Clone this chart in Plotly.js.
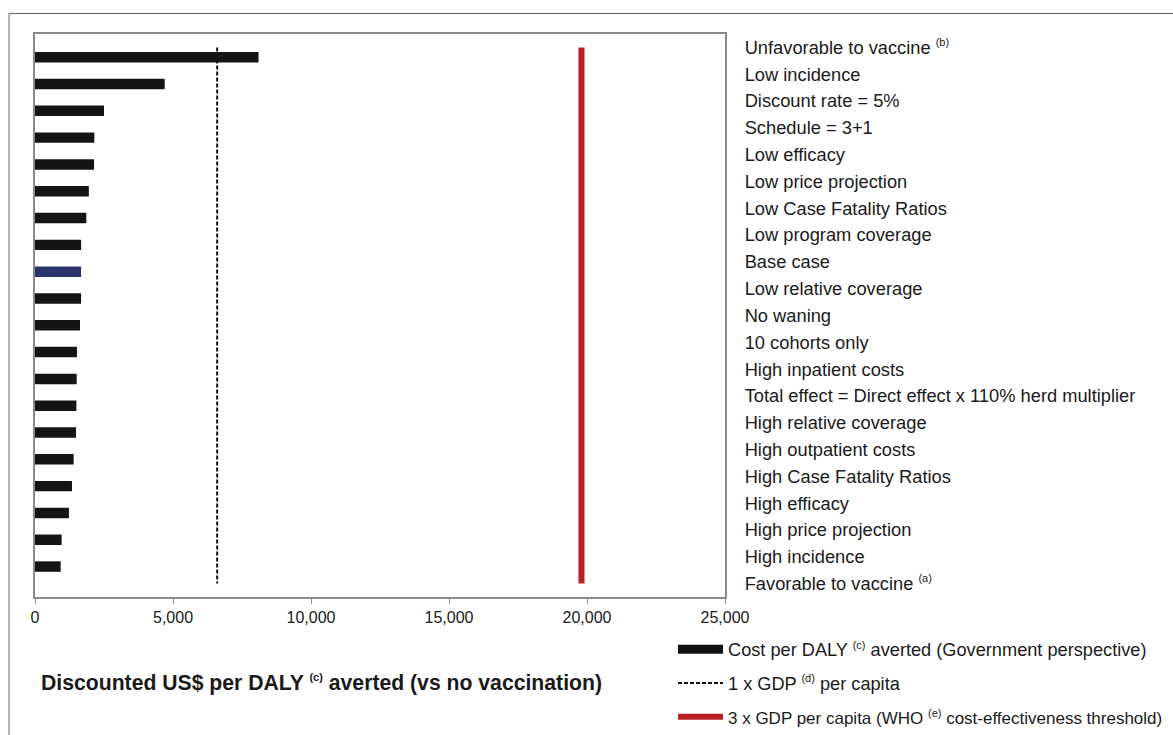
<!DOCTYPE html>
<html>
<head>
<meta charset="utf-8">
<script src="https://cdn.plot.ly/plotly-3.0.1.min.js"></script>
<style>
html,body{margin:0;padding:0;background:#fff;}
#chart{width:1173px;height:735px;}
</style>
</head>
<body>
<div id="chart"></div>
<script>
const sup = s => '<sup><span style="font-size:11px">' + s + '</span></sup>';
// Scenario labels (top to bottom)
const categories = [
  "Unfavorable to vaccine " + sup("(b)"),
  "Low incidence",
  "Discount rate = 5%",
  "Schedule = 3+1",
  "Low efficacy",
  "Low price projection",
  "Low Case Fatality Ratios",
  "Low program coverage",
  "Base case",
  "Low relative coverage",
  "No waning",
  "10 cohorts only",
  "High inpatient costs",
  "Total effect = Direct effect x 110% herd multiplier",
  "High relative coverage",
  "High outpatient costs",
  "High Case Fatality Ratios",
  "High efficacy",
  "High price projection",
  "High incidence",
  "Favorable to vaccine " + sup("(a)")
];
// Cost per DALY averted (Government perspective), US$
const costPerDaly = [8100, 4700, 2500, 2150, 2140, 1950, 1860, 1670, 1670, 1670,
                     1630, 1520, 1510, 1500, 1485, 1400, 1340, 1230, 965, 930, null];
// Thresholds
const gdpPerCapita1x = [6600, 6600];
const gdpPerCapita3x = [19800, 19800];
const thresholdSpan = [categories[0], categories[categories.length - 1]];
const xTickVals = [0, 5000, 10000, 15000, 20000, 25000];

const legendNames = {
  cost: "Cost per DALY " + sup("(c)") + " averted (Government perspective)",
  gdp1: "1 x GDP " + sup("(d)") + " per capita",
  gdp3: '<span style="font-size:17px">3 x GDP per capita (WHO ' + sup("(e)") + ' cost-effectiveness threshold)</span>'
};

const FONT = "Liberation Sans, Arial, Helvetica, sans-serif";
const TXT = "#1a1a1a";
const barColors = categories.map(c => c === "Base case" ? "#28336f" : "#141414");

const traces = [
  {
    type: "scatter", mode: "lines",
    x: gdpPerCapita1x, y: thresholdSpan,
    line: {color: "#111", width: 2, dash: "4px,2px"},
    name: legendNames.gdp1, legendgroup: "b", legendrank: 2,
    hoverinfo: "skip"
  },
  {
    type: "bar", orientation: "h",
    y: categories, x: costPerDaly,
    marker: {color: barColors, line: {width: 0}},
    width: 0.39, offset: 0.17,
    showlegend: false, name: "Cost per DALY"
  },
  {
    type: "scatter", mode: "lines",
    x: [null], y: [null],
    line: {color: "#111", width: 9},
    name: legendNames.cost, legendgroup: "a", legendrank: 1
  },
  {
    type: "scatter", mode: "lines",
    x: gdpPerCapita3x, y: thresholdSpan,
    line: {color: "#b91f25", width: 6},
    name: legendNames.gdp3, legendgroup: "c", legendrank: 3,
    hoverinfo: "skip"
  }
];

const W = 1173, H = 735;
const L = 35, R = 725, T = 34, B = 597;
const px = v => (v - L) / (R - L);
const py = v => (B - v) / (B - T);

const layout = {
  width: W, height: H,
  margin: {l: L, r: W - R, t: T, b: H - B, pad: 0, autoexpand: false},
  paper_bgcolor: "#fff", plot_bgcolor: "#fff",
  font: {family: FONT, color: TXT, size: 16},
  showlegend: true,
  legend: {
    x: px(673), y: py(631), xanchor: "left", yanchor: "top",
    traceorder: "grouped", tracegroupgap: 7,
    itemwidth: 45, font: {size: 18.2, color: TXT, family: FONT},
    bgcolor: "rgba(0,0,0,0)", borderwidth: 0
  },
  xaxis: {
    range: [0, 25000], tickvals: xTickVals, tickformat: ",d",
    showgrid: false, zeroline: false,
    showline: true, mirror: true, linecolor: "#8a8a8a", linewidth: 2,
    ticks: "outside", ticklen: 5, tickcolor: "#8a8a8a", tickwidth: 1,
    tickfont: {size: 16, color: TXT}
  },
  yaxis: {
    type: "category", categoryorder: "array", categoryarray: categories,
    range: [categories.length - 0.5, -0.5],
    side: "right", showgrid: false, zeroline: false,
    showline: true, mirror: true, linecolor: "#8a8a8a", linewidth: 2,
    ticks: "", ticklabelstandoff: 14,
    tickfont: {size: 18.3, color: TXT}
  },
  annotations: [{
    xref: "paper", yref: "paper", x: px(39), y: py(683),
    xanchor: "left", yanchor: "middle", showarrow: false,
    text: "<b>Discounted US$ per DALY " + sup("(c)") + " averted (vs no vaccination)</b>",
    font: {size: 21.2, color: TXT, family: FONT}
  }],
  shapes: [
    {type: "line", xref: "paper", yref: "paper", x0: px(9), x1: px(1180), y0: py(13.5), y1: py(13.5),
     line: {color: "#666", width: 1}},
    {type: "line", xref: "paper", yref: "paper", x0: px(9), x1: px(9), y0: py(13.5), y1: py(740),
     line: {color: "#666", width: 1}}
  ],
  bargap: 0.6
};

Plotly.newPlot("chart", traces, layout, {displayModeBar: false, staticPlot: true});
</script>
</body>
</html>
